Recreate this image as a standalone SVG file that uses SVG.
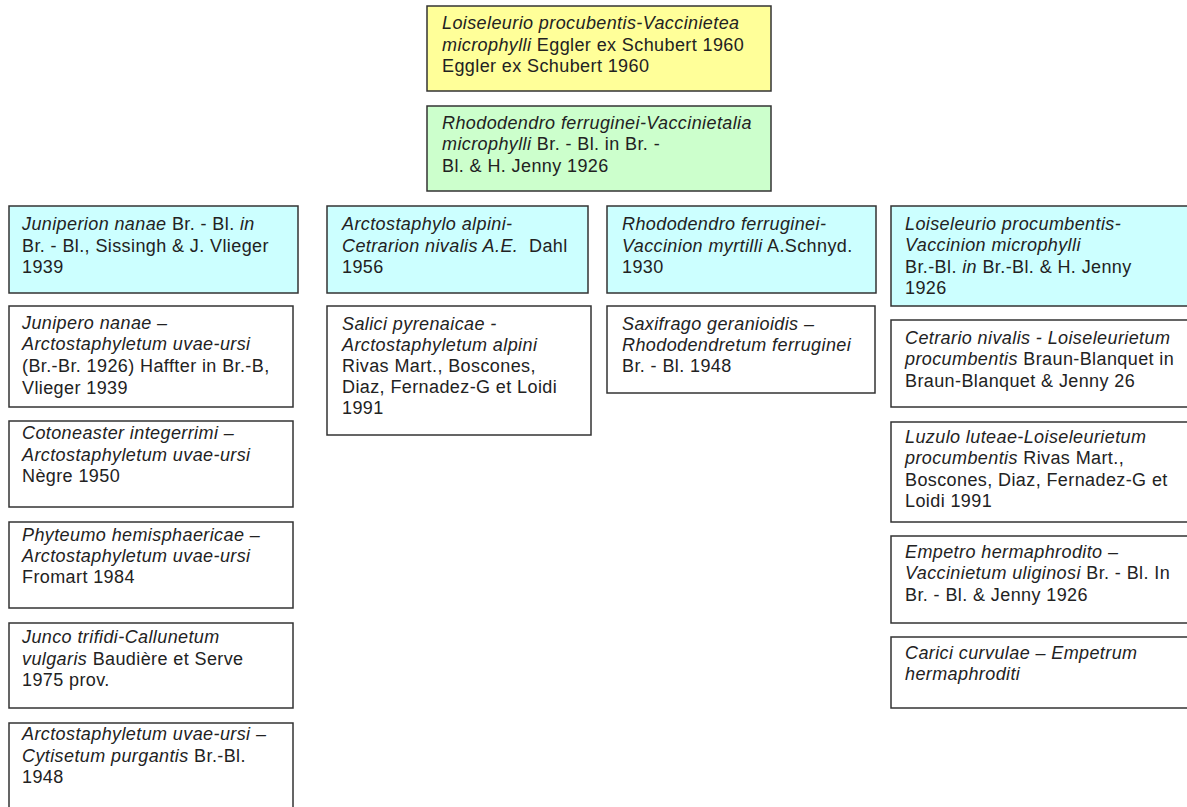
<svg xmlns="http://www.w3.org/2000/svg" width="1187" height="807" viewBox="0 0 1187 807">
<style>
  .box { stroke: #333333; stroke-width: 1.5; }
  .yellow { fill: #FFFF99; }
  .green { fill: #CCFFCC; }
  .blue { fill: #CCFFFF; }
  .white { fill: #FFFFFF; }
  text { font-family: "Liberation Sans", Arial, sans-serif; font-size: 18px; fill: #222222; letter-spacing: 0.4px; }
  .it { font-style: italic; }
</style>
<rect x="0" y="0" width="1187" height="807" fill="#FFFFFF"/>
<g id="connectors"></g>

<g id="n-class">
  <rect class="box yellow" x="427" y="6" width="344" height="85"/>
  <text x="442" y="29"><tspan class="it">Loiseleurio procubentis-Vaccinietea</tspan></text>
  <text x="442" y="50.5"><tspan class="it">microphylli</tspan> Eggler ex Schubert 1960</text>
  <text x="442" y="72">Eggler ex Schubert 1960</text>
</g>

<g id="n-order">
  <rect class="box green" x="427" y="106" width="344" height="85"/>
  <text x="442" y="128.5"><tspan class="it">Rhododendro ferruginei-Vaccinietalia</tspan></text>
  <text x="442" y="150"><tspan class="it">microphylli</tspan> Br. - Bl. in Br. -</text>
  <text x="442" y="171.5">Bl. &amp; H. Jenny 1926</text>
</g>

<g id="n-juniperion">
  <rect class="box blue" x="9" y="206" width="289" height="87"/>
  <text x="22" y="230"><tspan class="it">Juniperion nanae</tspan> Br. - Bl. <tspan class="it">in</tspan></text>
  <text x="22" y="251.5">Br. - Bl., Sissingh &amp; J. Vlieger</text>
  <text x="22" y="272.5">1939</text>
</g>

<g id="n-junipero">
  <rect class="box white" x="9" y="306" width="284" height="101"/>
  <text x="22" y="328.5"><tspan class="it">Junipero nanae –</tspan></text>
  <text x="22" y="350"><tspan class="it">Arctostaphyletum uvae-ursi</tspan></text>
  <text x="22" y="371.5">(Br.-Br. 1926) Haffter in Br.-B,</text>
  <text x="22" y="393.5">Vlieger 1939</text>
</g>

<g id="n-cotoneaster">
  <rect class="box white" x="9" y="421" width="284" height="86"/>
  <text x="22" y="439"><tspan class="it">Cotoneaster integerrimi –</tspan></text>
  <text x="22" y="460.5"><tspan class="it">Arctostaphyletum uvae-ursi</tspan></text>
  <text x="22" y="482">Nègre 1950</text>
</g>

<g id="n-phyteumo">
  <rect class="box white" x="9" y="522" width="284" height="86"/>
  <text x="22" y="540.5"><tspan class="it">Phyteumo hemisphaericae –</tspan></text>
  <text x="22" y="562"><tspan class="it">Arctostaphyletum uvae-ursi</tspan></text>
  <text x="22" y="583">Fromart 1984</text>
</g>

<g id="n-junco">
  <rect class="box white" x="9" y="623" width="284" height="85"/>
  <text x="22" y="643"><tspan class="it">Junco trifidi-Callunetum</tspan></text>
  <text x="22" y="664.5"><tspan class="it">vulgaris</tspan> Baudière et Serve</text>
  <text x="22" y="686">1975 prov.</text>
</g>

<g id="n-arctocytisus">
  <rect class="box white" x="9" y="723" width="284" height="95"/>
  <text x="22" y="740"><tspan class="it">Arctostaphyletum uvae-ursi –</tspan></text>
  <text x="22" y="761.5"><tspan class="it">Cytisetum purgantis</tspan> Br.-Bl.</text>
  <text x="22" y="782.5">1948</text>
</g>

<g id="n-arctostaphylo">
  <rect class="box blue" x="327" y="206" width="261" height="87"/>
  <text x="342" y="230"><tspan class="it">Arctostaphylo alpini-</tspan></text>
  <text x="342" y="251.5"><tspan class="it">Cetrarion nivalis A.E.</tspan>&#160; Dahl</text>
  <text x="342" y="272.5">1956</text>
</g>

<g id="n-salici">
  <rect class="box white" x="327" y="306" width="264" height="129"/>
  <text x="342" y="330"><tspan class="it">Salici pyrenaicae -</tspan></text>
  <text x="342" y="351"><tspan class="it">Arctostaphyletum alpini</tspan></text>
  <text x="342" y="372">Rivas Mart., Boscones,</text>
  <text x="342" y="393">Diaz, Fernadez-G et Loidi</text>
  <text x="342" y="414">1991</text>
</g>

<g id="n-rhodovacc">
  <rect class="box blue" x="607" y="206" width="269" height="87"/>
  <text x="622" y="230"><tspan class="it">Rhododendro ferruginei-</tspan></text>
  <text x="622" y="251.5"><tspan class="it">Vaccinion myrtilli</tspan> A.Schnyd.</text>
  <text x="622" y="272.5">1930</text>
</g>

<g id="n-saxifrago">
  <rect class="box white" x="607" y="306" width="268" height="87"/>
  <text x="622" y="330"><tspan class="it">Saxifrago geranioidis –</tspan></text>
  <text x="622" y="351"><tspan class="it">Rhododendretum ferruginei</tspan></text>
  <text x="622" y="372">Br. - Bl. 1948</text>
</g>

<g id="n-loiselvacc">
  <rect class="box blue" x="891" y="206" width="305" height="100"/>
  <text x="905" y="230"><tspan class="it">Loiseleurio procumbentis-</tspan></text>
  <text x="905" y="251"><tspan class="it">Vaccinion microphylli</tspan></text>
  <text x="905" y="272.5">Br.-Bl. <tspan class="it">in</tspan> Br.-Bl. &amp; H. Jenny</text>
  <text x="905" y="293.5">1926</text>
</g>

<g id="n-cetrario">
  <rect class="box white" x="891" y="320" width="305" height="87"/>
  <text x="905" y="343.5"><tspan class="it">Cetrario nivalis - Loiseleurietum</tspan></text>
  <text x="905" y="365"><tspan class="it">procumbentis</tspan> Braun-Blanquet in</text>
  <text x="905" y="386.5">Braun-Blanquet &amp; Jenny 26</text>
</g>

<g id="n-luzulo">
  <rect class="box white" x="891" y="422" width="305" height="100"/>
  <text x="905" y="442.5"><tspan class="it">Luzulo luteae-Loiseleurietum</tspan></text>
  <text x="905" y="464"><tspan class="it">procumbentis</tspan> Rivas Mart.,</text>
  <text x="905" y="485.5">Boscones, Diaz, Fernadez-G et</text>
  <text x="905" y="507">Loidi 1991</text>
</g>

<g id="n-empetro">
  <rect class="box white" x="891" y="536" width="305" height="87"/>
  <text x="905" y="557.5"><tspan class="it">Empetro hermaphrodito –</tspan></text>
  <text x="905" y="579"><tspan class="it">Vaccinietum uliginosi</tspan> Br. - Bl. In</text>
  <text x="905" y="600.5">Br. - Bl. &amp; Jenny 1926</text>
</g>

<g id="n-carici">
  <rect class="box white" x="891" y="637" width="305" height="71"/>
  <text x="905" y="658.5"><tspan class="it">Carici curvulae – Empetrum</tspan></text>
  <text x="905" y="679.5"><tspan class="it">hermaphroditi</tspan></text>
</g>
</svg>
